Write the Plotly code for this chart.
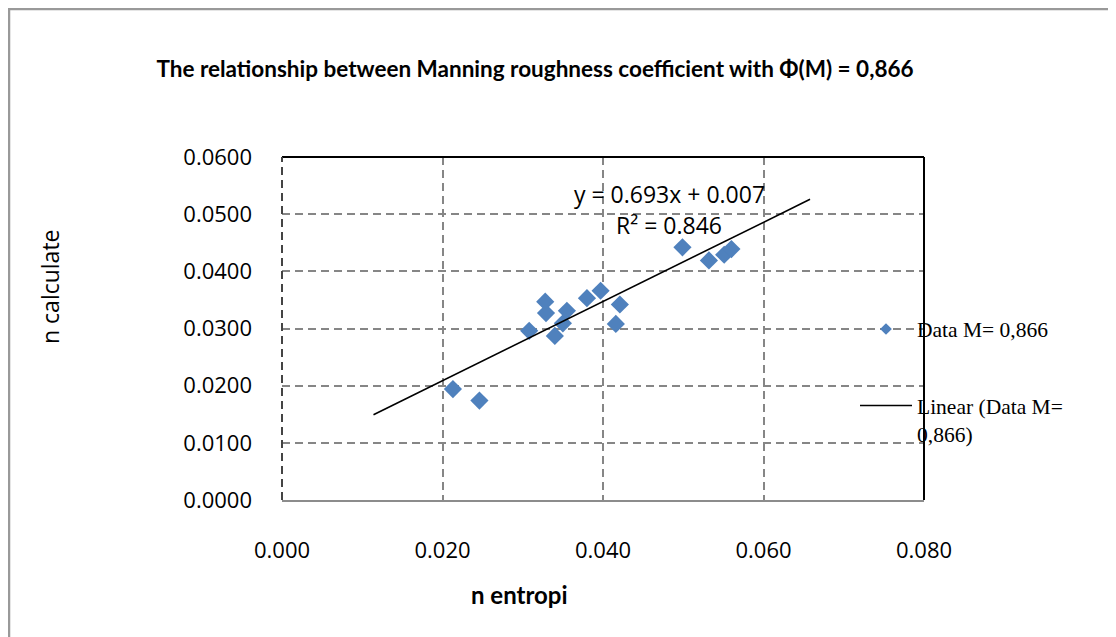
import plotly.graph_objects as go

# ---- data ----
n_entropi = [0.0213, 0.0246, 0.0308, 0.0328, 0.0329, 0.0340, 0.0350, 0.0355,
             0.0380, 0.0397, 0.0421, 0.0416, 0.0499, 0.0532, 0.0551, 0.0560]
n_calculate = [0.0194, 0.0174, 0.0296, 0.0347, 0.0327, 0.0287, 0.0309, 0.0331,
               0.0353, 0.0366, 0.0342, 0.0308, 0.0442, 0.0419, 0.0429, 0.0439]
trend_slope = 0.693
trend_intercept = 0.007
trend_x = [0.0114, 0.0658]
trend_y = [trend_slope * v + trend_intercept for v in trend_x]

x_ticks = [0.0, 0.02, 0.04, 0.06, 0.08]
y_ticks = [0.0, 0.01, 0.02, 0.03, 0.04, 0.05, 0.06]

title_text = "The relationship between Manning roughness coefficient with \u03a6(M) = 0,866"
x_title = "n entropi"
y_title = "n calculate"
eq_text = "y = 0.693x + 0.007"
r2_text = "R\u00b2 = 0.846"
series_name = "Data M= 0,866"
trend_name = "Linear (Data M=<br>0,866)"

# ---- layout geometry (screen pixels; page body has an 8px margin) ----
OFF = 8
W, H = 1116, 637
L, R, T, B = 282 - OFF, 924 - OFF, 157 - OFF, 500 - OFF
PW, PH = R - L, B - T


def px(xs):
    return (xs - OFF - L) / PW


def py(ys):
    return (B - (ys - OFF)) / PH


BLUE = "#4F81BD"
GRID = "#868686"
DASH = "8px,5px"
TICKFONT = dict(family="Open Sans", size=22, color="#000000")

fig = go.Figure()

fig.add_trace(go.Scatter(
    x=n_entropi, y=n_calculate, mode="markers", showlegend=False,
    marker=dict(symbol="diamond", size=14, color=BLUE, line=dict(width=0)),
    cliponaxis=False,
))
# legend glyph for the data series
fig.add_trace(go.Scatter(
    x=[None], y=[None], mode="markers", name=series_name, legend="legend",
    marker=dict(symbol="diamond", size=9, color=BLUE, line=dict(width=0)),
))
fig.add_trace(go.Scatter(
    x=trend_x, y=trend_y, mode="lines", name=trend_name, legend="legend2",
    line=dict(color="#000000", width=1.6),
))

fig.update_layout(
    width=W, height=H, autosize=False,
    margin=dict(l=L, r=W - R, t=T, b=H - B, pad=0),
    paper_bgcolor="white", plot_bgcolor="white",
    title=dict(text="<b>" + title_text + "</b>", x=(535 - OFF) / W, xanchor="center",
               y=1 - (69 - OFF) / H, yanchor="middle", xref="container", yref="container",
               font=dict(family="Lato", size=22.5, color="#000000")),
    xaxis=dict(range=[0, 0.08], tickvals=x_ticks, tickformat=".3f",
               showgrid=True, gridcolor=GRID, griddash=DASH, gridwidth=1.7,
               zeroline=False, showline=True, linecolor="#8c8c8c", linewidth=2,
               ticks="", ticklabelstandoff=30, tickfont=TICKFONT),
    yaxis=dict(range=[0, 0.06], tickvals=y_ticks, tickformat=".4f",
               showgrid=True, gridcolor=GRID, griddash=DASH, gridwidth=1.7,
               zeroline=False, showline=False,
               ticks="", ticklabelstandoff=29, tickfont=TICKFONT),
    legend=dict(x=px(855), y=py(329), xanchor="left", yanchor="middle",
                bgcolor="rgba(0,0,0,0)", itemwidth=52, valign="top",
                font=dict(family="Liberation Serif", size=21.5, color="#000000")),
    legend2=dict(x=px(855), y=py(385), xanchor="left", yanchor="top",
                 bgcolor="rgba(0,0,0,0)", itemwidth=52, valign="top",
                 font=dict(family="Liberation Serif", size=21.5, color="#000000")),
    annotations=[
        dict(text=eq_text, x=px(669), y=py(194), xref="paper", yref="paper",
             showarrow=False, xanchor="center", yanchor="middle",
             font=dict(family="Open Sans", size=23, color="#000000")),
        dict(text=r2_text, x=px(669), y=py(225), xref="paper", yref="paper",
             showarrow=False, xanchor="center", yanchor="middle",
             font=dict(family="Open Sans", size=23, color="#000000")),
        dict(text="<b>" + x_title + "</b>", x=px(519), y=py(594), xref="paper", yref="paper",
             showarrow=False, xanchor="center", yanchor="middle",
             font=dict(family="Lato", size=24, color="#000000")),
        dict(text=y_title, x=px(50), y=py(287), xref="paper", yref="paper",
             showarrow=False, xanchor="center", yanchor="middle", textangle=-90,
             font=dict(family="Open Sans", size=23, color="#000000")),
    ],
    shapes=[
        # outer chart border
        dict(type="rect", xref="paper", yref="paper",
             x0=px(9), x1=px(1135), y0=py(660), y1=py(9),
             line=dict(color="#999999", width=2.5), layer="below"),
        # plot frame
        dict(type="line", xref="paper", yref="paper", x0=0, x1=1, y0=1, y1=1,
             line=dict(color="#000000", width=2)),
        dict(type="line", xref="paper", yref="paper", x0=1, x1=1, y0=0, y1=1,
             line=dict(color="#000000", width=2)),
        dict(type="line", xref="paper", yref="paper", x0=0, x1=0, y0=0, y1=1,
             line=dict(color="#444444", width=2, dash=DASH)),
    ],
)

fig.write_html("out.html")
